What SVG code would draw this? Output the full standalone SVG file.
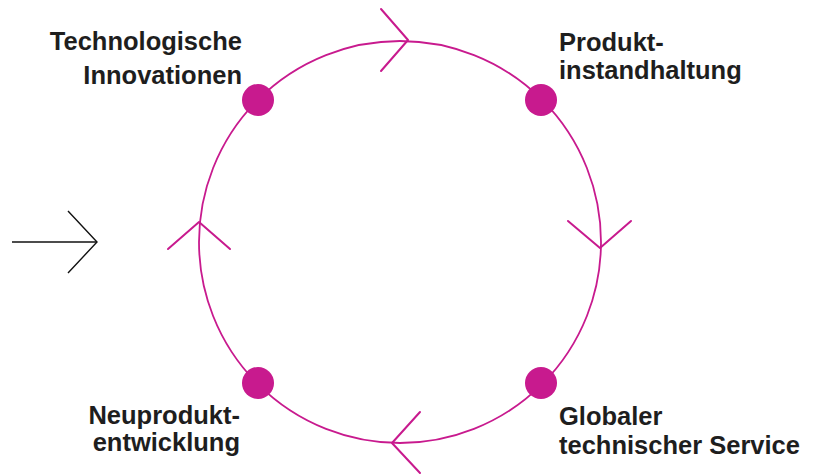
<svg xmlns="http://www.w3.org/2000/svg" width="817" height="475" viewBox="0 0 817 475">
<style>
.lbl{font-family:"Liberation Sans",Arial,sans-serif;font-weight:bold;font-size:25.5px;fill:#1e1e1e}
.ring{fill:none;stroke:#c81a8e;stroke-width:1.8}
.chev{fill:none;stroke:#c81a8e;stroke-width:2;stroke-linecap:round;stroke-linejoin:round}
.dot{fill:#c81a8e}
</style>
<rect width="817" height="475" fill="#fff"/>
<g id="connectors">
<circle class="ring" cx="400" cy="242" r="201"/>
<polyline class="chev" points="381,9 408,40 381,71"/>
<polyline class="chev" points="568,221 600,248 631,221"/>
<polyline class="chev" points="420,412 392,443 420,473"/>
<polyline class="chev" points="168,249 199,222 230,249"/>
<g fill="none" stroke="#111" stroke-width="1.4">
<line x1="12" y1="242" x2="97" y2="242"/>
<polyline points="68,211 97,242 68,273"/>
</g>
</g>
<g id="node-tech">
<circle class="dot" cx="258" cy="100" r="16"/>
<text class="lbl" text-anchor="end" x="242" y="50">Technologische</text>
<text class="lbl" text-anchor="end" x="242" y="84">Innovationen</text>
</g>
<g id="node-produkt">
<circle class="dot" cx="541" cy="100" r="16"/>
<text class="lbl" x="559" y="51">Produkt-</text>
<text class="lbl" x="559" y="79">instandhaltung</text>
</g>
<g id="node-global">
<circle class="dot" cx="541" cy="383" r="16"/>
<text class="lbl" x="559" y="425">Globaler</text>
<text class="lbl" x="559" y="454">technischer Service</text>
</g>
<g id="node-neu">
<circle class="dot" cx="258" cy="383" r="16"/>
<text class="lbl" text-anchor="end" x="240" y="424">Neuprodukt-</text>
<text class="lbl" text-anchor="end" x="240" y="451">entwicklung</text>
</g>
</svg>
